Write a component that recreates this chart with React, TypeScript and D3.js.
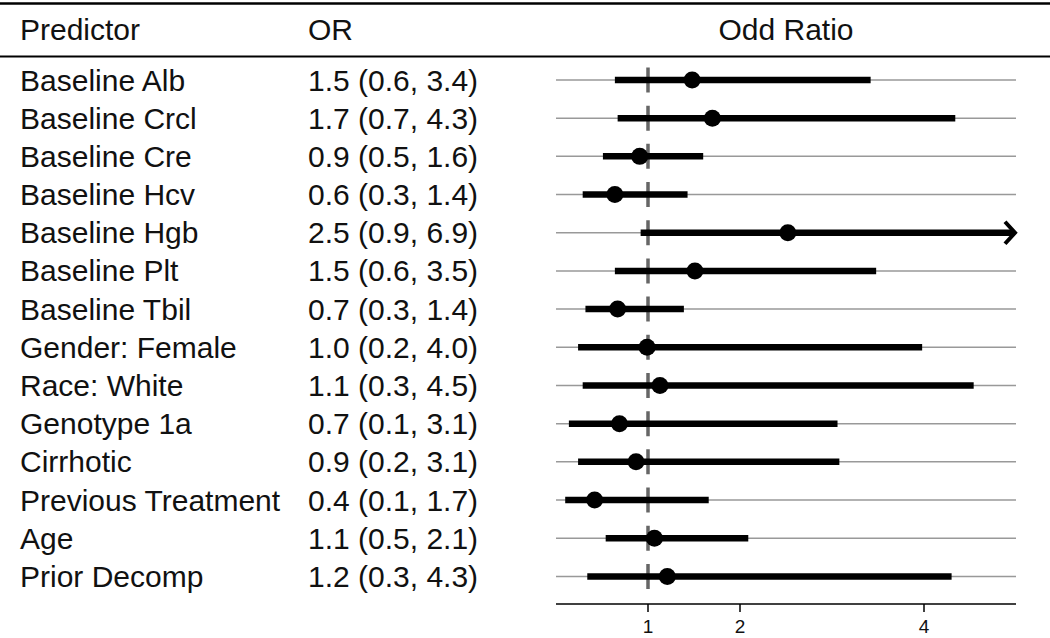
import React from "react";
import * as d3 from "d3";

const predictors = [
  "Baseline Alb", "Baseline Crcl", "Baseline Cre", "Baseline Hcv", "Baseline Hgb",
  "Baseline Plt", "Baseline Tbil", "Gender: Female", "Race: White", "Genotype 1a",
  "Cirrhotic", "Previous Treatment", "Age", "Prior Decomp",
];
const oddsRatio = [1.48, 1.70, 0.91, 0.64, 2.52, 1.51, 0.67, 0.99, 1.13, 0.69, 0.87, 0.42, 1.07, 1.21];
const lowerCI = [0.64, 0.67, 0.51, 0.29, 0.92, 0.64, 0.32, 0.24, 0.29, 0.14, 0.24, 0.10, 0.54, 0.34];
const upperCI = [3.42, 4.34, 1.60, 1.43, 6.9, 3.48, 1.39, 3.98, 4.54, 3.06, 3.08, 1.66, 2.09, 4.30];
const xTicks = [1, 2, 4];
const xDomain = [0, 5];
const headers = ["Predictor", "OR", "Odd Ratio"];

const W = 1050;
const H = 638;
const FONT = "'Liberation Sans', Arial, Helvetica, sans-serif";

export default function App() {
  const x = d3.scaleLinear().domain(xDomain).range([556, 1016]);
  const y = d3.scalePoint<string>().domain(predictors).range([80, 576.4]);
  const fmt = d3.format(".1f");
  const step = y.step();
  const dash = 25;
  const [xMin, xMax] = x.range();
  const refTop = (y(predictors[0]) as number) - dash / 2;
  const refBottom = (y(predictors[predictors.length - 1]) as number) + dash / 2;
  const axisY = 604;
  const fs = 30;

  return (
    <svg
      width={W}
      height={H}
      style={{ position: "absolute", left: 0, top: 0, background: "#fff" }}
      fontFamily={FONT}
    >
      <line x1={0} x2={W} y1={3.5} y2={3.5} stroke="#000" strokeWidth={2.5} />
      <line x1={0} x2={W} y1={56.5} y2={56.5} stroke="#000" strokeWidth={2} />
      <text x={20} y={40} fontSize={fs} fill="#111">{headers[0]}</text>
      <text x={308} y={40} fontSize={fs} fill="#111">{headers[1]}</text>
      <text x={(xMin + xMax) / 2} y={40} fontSize={fs} fill="#111" textAnchor="middle">{headers[2]}</text>

      {predictors.map((p, i) => {
        const cy = y(p) as number;
        return (
          <g key={p}>
            <text x={20} y={cy + 10.5} fontSize={fs} fill="#111">{p}</text>
            <text x={308} y={cy + 10.5} fontSize={fs} fill="#111">
              {`${fmt(oddsRatio[i])} (${fmt(lowerCI[i])}, ${fmt(upperCI[i])})`}
            </text>
            <line x1={xMin} x2={xMax} y1={cy} y2={cy} stroke="#999" strokeWidth={1.5} />
          </g>
        );
      })}

      <line
        x1={x(1)}
        x2={x(1)}
        y1={refTop}
        y2={refBottom}
        stroke="#666"
        strokeWidth={3.5}
        strokeDasharray={`${dash} ${step - dash}`}
      />

      {predictors.map((p, i) => {
        const cy = y(p) as number;
        const clipped = upperCI[i] > xDomain[1];
        const x1 = x(Math.max(lowerCI[i], xDomain[0]));
        const x2 = clipped ? xMax - 2 : x(upperCI[i]);
        return (
          <g key={p + "-m"}>
            <line x1={x1} x2={x2} y1={cy} y2={cy} stroke="#000" strokeWidth={6.5} />
            {clipped && (
              <path
                d={`M${xMax - 11},${cy - 11} L${xMax - 1},${cy} L${xMax - 11},${cy + 11}`}
                fill="none"
                stroke="#000"
                strokeWidth={4}
                strokeLinejoin="miter"
              />
            )}
            <circle cx={x(oddsRatio[i])} cy={cy} r={8.5} fill="#000" />
          </g>
        );
      })}

      <line x1={xMin} x2={xMax} y1={axisY} y2={axisY} stroke="#000" strokeWidth={1.5} />
      {xTicks.map((t) => (
        <g key={t}>
          <line x1={x(t)} x2={x(t)} y1={axisY} y2={axisY + 8} stroke="#000" strokeWidth={1.5} />
          <text x={x(t)} y={633} fontSize={19} textAnchor="middle" fill="#111">{t}</text>
        </g>
      ))}
    </svg>
  );
}
